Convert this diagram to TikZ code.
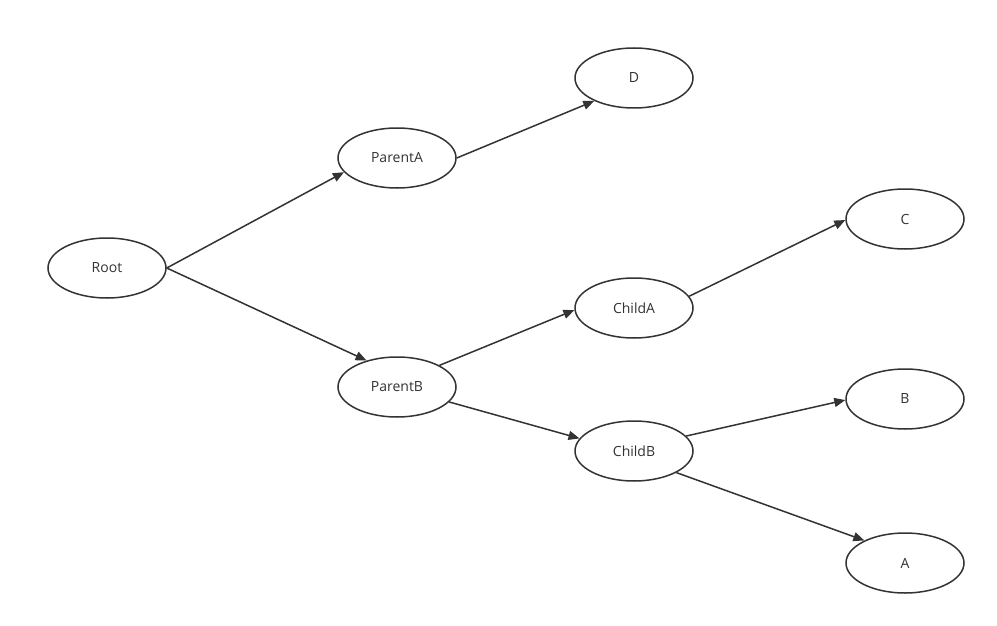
\documentclass[tikz,border=0pt]{standalone}
\usepackage{fontspec}
\setmainfont{Open Sans}
\usetikzlibrary{shapes.geometric,arrows.meta}
\definecolor{ink}{HTML}{333333}
\begin{document}
\begin{tikzpicture}[x=1pt,y=-1pt,
  ell/.style={ellipse,draw=ink,line width=1.5pt,minimum width=118pt,minimum height=60pt,inner sep=0pt,text=ink,font=\fontsize{14}{16}\selectfont},
  conn/.style={draw=ink,line width=1.5pt,-{Triangle[length=11pt,width=9pt]}}]
\useasboundingbox (0,0) rectangle (997,626);
\fill[white] (0,0) rectangle (997,626);
\node[ell] (root) at (107,268) {Root};
\node[ell] (pa) at (397,158) {ParentA};
\node[ell] (pb) at (397,387) {ParentB};
\node[ell] (d) at (634,78) {D};
\node[ell] (ca) at (634,308) {ChildA};
\node[ell] (cb) at (634,451) {ChildB};
\node[ell] (c) at (905,219) {C};
\node[ell] (b) at (905,399) {B};
\node[ell] (a) at (905,563) {A};
\draw[conn] (root.east) -- (pa.195);
\draw[conn] (root.east) -- (pb.139);
\draw[conn] (pa.east) -- (d.210);
\draw[conn] (pb.27) -- (ca.182);
\draw[conn] (pb.-16) -- (cb.167);
\draw[conn] (ca.12) -- (c.181);
\draw[conn] (cb.16) -- (b.181);
\draw[conn] (cb.-27) -- (a.151);
\end{tikzpicture}
\end{document}
